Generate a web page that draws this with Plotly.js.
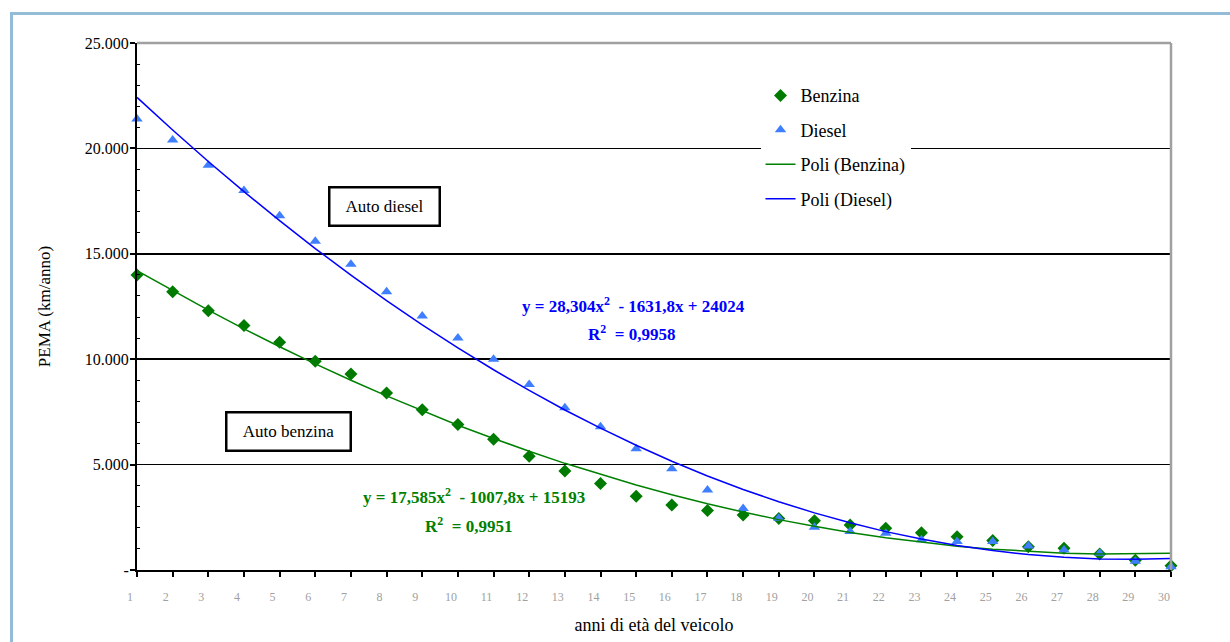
<!DOCTYPE html>
<html>
<head>
<meta charset="utf-8">
<script src="https://cdn.plot.ly/plotly-3.0.1.min.js"></script>
<style>
  html, body { margin: 0; padding: 0; background: #ffffff; }
  #frame { position: absolute; left: 10px; top: 12px; width: 1240px; height: 660px;
           border-left: 3px solid #93BDD7; border-top: 3px solid #93BDD7; z-index: 0; }
  #chart { position: absolute; left: 0; top: 0; width: 1230px; height: 642px; z-index: 1; }
</style>
</head>
<body>
<div id="frame"></div>
<div id="chart"></div>
<script>
// ---- data ----
const anni = [1,2,3,4,5,6,7,8,9,10,11,12,13,14,15,16,17,18,19,20,21,22,23,24,25,26,27,28,29,30];

const benzina = [14000,13200,12300,11600,10800,9900,9300,8400,7600,6900,6200,5400,4700,4100,3500,
                 3080,2820,2610,2440,2340,2140,1980,1770,1580,1400,1100,1030,760,460,200];

const diesel = [21400,20400,19200,18000,16800,15600,14500,13200,12050,11000,10000,8800,7700,6800,5750,
                4800,3800,2920,2450,2030,1830,1740,1430,1350,1350,1140,950,790,410,160];

// polynomial trend lines as drawn in the picture
const poliBenzina = [14200,13250,12330,11440,10590,9780,9000,8260,7550,6870,6240,5630,5060,4530,4030,
                     3570,3140,2750,2390,2070,1780,1530,1320,1130,990,880,800,760,760,790];

const poliDiesel = [22420,20870,19380,17950,16570,15250,13990,12780,11630,10540,9500,8520,7590,6730,5920,
                    5160,4460,3820,3240,2710,2240,1820,1470,1160,920,730,600,520,510,540];

const yTickVals = [0, 5000, 10000, 15000, 20000, 25000];
const yTickText = ['-', '5.000', '10.000', '15.000', '20.000', '25.000'];

const serif = '"Liberation Serif", "DejaVu Serif", serif';

const traces = [
  { x: anni, y: benzina, name: 'Benzina', type: 'scatter', mode: 'markers', legendgroup: 'a',
    cliponaxis: false,
    marker: { symbol: 'diamond', size: 10, color: '#007A00' } },
  { x: anni, y: diesel, name: 'Diesel', type: 'scatter', mode: 'markers', legendgroup: 'b',
    cliponaxis: false,
    marker: { symbol: 'triangle-up', size: 10, color: '#3F7FFF' } },
  { x: anni, y: poliBenzina, name: 'Poli (Benzina)', type: 'scatter', mode: 'lines', legendgroup: 'c',
    cliponaxis: false,
    line: { color: '#008000', width: 1.5 } },
  { x: anni, y: poliDiesel, name: 'Poli (Diesel)', type: 'scatter', mode: 'lines', legendgroup: 'd',
    cliponaxis: false,
    line: { color: '#0000FF', width: 1.5 } }
];

const layout = {
  width: 1230, height: 642,
  margin: { l: 137, r: 59, t: 43, b: 72 },
  paper_bgcolor: 'rgba(0,0,0,0)',
  plot_bgcolor: '#ffffff',
  font: { family: serif, color: '#000000' },
  showlegend: true,
  legend: {
    x: 0.603, y: 0.935, xanchor: 'left', yanchor: 'top',
    bgcolor: '#ffffff', borderwidth: 0,
    font: { family: serif, size: 18, color: '#000000' },
    traceorder: 'grouped', tracegroupgap: 8
  },
  xaxis: {
    range: [1, 30], tickvals: anni, ticktext: anni.map(String),
    ticks: 'outside', ticklen: 5, tickwidth: 2, tickcolor: '#000000',
    showline: true, linecolor: '#000000', linewidth: 2,
    showgrid: false, zeroline: false, automargin: false,
    tickfont: { family: serif, size: 12, color: '#A0A0A0' },
    ticklabelshift: -7, ticklabelstandoff: 10,
    title: { text: 'anni di età del veicolo', font: { family: serif, size: 18, color: '#000000' }, standoff: 15 }
  },
  yaxis: {
    range: [0, 25000], tickvals: yTickVals, ticktext: yTickText,
    ticks: 'outside', ticklen: 5, tickwidth: 2, tickcolor: '#000000',
    minor: { dtick: 1000, ticks: 'inside', ticklen: 3, tickwidth: 1, tickcolor: '#000000', showgrid: false },
    showline: true, linecolor: '#000000', linewidth: 2,
    showgrid: true, gridcolor: '#000000', gridwidth: 1.6,
    zeroline: false, automargin: false,
    tickfont: { family: serif, size: 16, color: '#000000' },
    ticklabelstandoff: -2,
    title: { text: 'PEMA (km/anno)', font: { family: serif, size: 17, color: '#000000' }, standoff: 30 }
  },
  shapes: [
    { type: 'line', xref: 'paper', yref: 'paper', x0: 0, x1: 1, y0: 1, y1: 1,
      line: { color: '#A0A0A0', width: 2.5 } },
    { type: 'line', xref: 'paper', yref: 'paper', x0: 1, x1: 1, y0: 0, y1: 1,
      line: { color: '#A0A0A0', width: 2.5 } }
  ],
  annotations: [
    { xref: 'paper', yref: 'paper', x: 0.239, y: 0.689, xanchor: 'center', yanchor: 'middle',
      text: 'Auto diesel', showarrow: false,
      font: { family: serif, size: 17, color: '#000000' }, bgcolor: '#ffffff',
      bordercolor: '#000000', borderwidth: 2.5, borderpad: 2, width: 104, height: 32 },
    { xref: 'paper', yref: 'paper', x: 0.147, y: 0.262, xanchor: 'center', yanchor: 'middle',
      text: 'Auto benzina', showarrow: false,
      font: { family: serif, size: 17, color: '#000000' }, bgcolor: '#ffffff',
      bordercolor: '#000000', borderwidth: 2.5, borderpad: 2, width: 118, height: 32 },
    { xref: 'paper', yref: 'paper', x: 0.4797, y: 0.503, xanchor: 'center', yanchor: 'middle', showarrow: false,
      text: '<b>y = 28,304x<sup>2</sup>  - 1631,8x + 24024</b>',
      font: { family: serif, size: 17, color: '#0000FF' } },
    { xref: 'paper', yref: 'paper', x: 0.4787, y: 0.4497, xanchor: 'center', yanchor: 'middle', showarrow: false,
      text: '<b>R<sup>2</sup>  = 0,9958</b>',
      font: { family: serif, size: 17, color: '#0000FF' } },
    { xref: 'paper', yref: 'paper', x: 0.3259, y: 0.1404, xanchor: 'center', yanchor: 'middle', showarrow: false,
      text: '<b>y = 17,585x<sup>2</sup>  - 1007,8x + 15193</b>',
      font: { family: serif, size: 17, color: '#008000' } },
    { xref: 'paper', yref: 'paper', x: 0.321, y: 0.0854, xanchor: 'center', yanchor: 'middle', showarrow: false,
      text: '<b>R<sup>2</sup>  = 0,9951</b>',
      font: { family: serif, size: 17, color: '#008000' } }
  ]
};

Plotly.newPlot('chart', traces, layout, { displayModeBar: false, staticPlot: true });
</script>
</body>
</html>
